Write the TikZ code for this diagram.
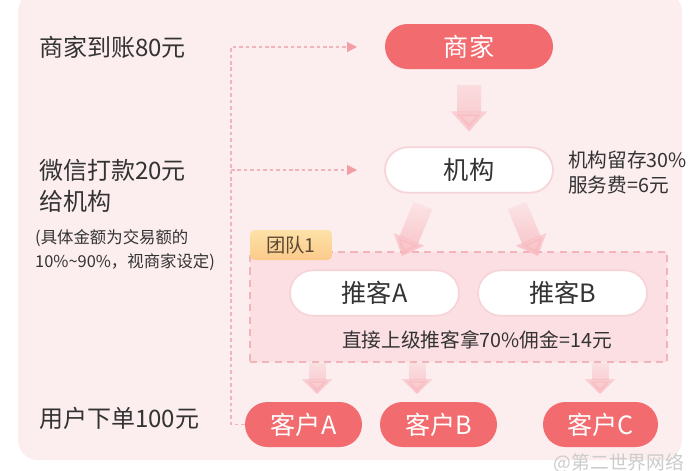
\documentclass[tikz,border=0pt]{standalone}
\usepackage{fontspec}
\setmainfont{Noto Sans CJK SC}
\usetikzlibrary{arrows.meta, positioning, shapes.misc, fadings, calc}
\definecolor{bgpink}{RGB}{252,237,238}
\definecolor{teampink}{RGB}{252,223,227}
\definecolor{pillred}{RGB}{241,107,111}
\definecolor{arrowpink}{RGB}{248,184,190}
\definecolor{dashpink}{RGB}{240,180,186}
\definecolor{dashtipc}{RGB}{243,158,165}
\definecolor{textgray}{RGB}{51,51,51}
\definecolor{tabtop}{RGB}{253,226,168}
\definecolor{tabbot}{RGB}{251,202,138}
\definecolor{tabtext}{RGB}{92,72,52}
\definecolor{glow}{RGB}{247,212,216}
\tikzfading[name=arrowfade, top color=transparent!92, bottom color=transparent!5]

\begin{document}
\begin{tikzpicture}[
    x=0.03cm, y=-0.03cm,
    redpill/.style={rounded rectangle, fill=pillred, text=white, minimum height=1.35cm, inner sep=0pt, font=\fontsize{21.5}{24}\selectfont},
    whitepill/.style={rounded rectangle, fill=white, draw=glow, line width=1.5pt, text=textgray, minimum height=1.36cm, inner sep=0pt, font=\fontsize{21.5}{24}\selectfont},
    lefttext/.style={text=textgray, inner sep=0pt, font=\fontsize{20.5}{27}\selectfont},
    smalltext/.style={text=textgray, inner sep=0pt, font=\fontsize{14}{20.5}\selectfont},
    note/.style={text=textgray, inner sep=0pt, font=\fontsize{16.8}{21.5}\selectfont},
    teambox/.style={draw=dashpink, fill=teampink, line width=1.2pt, dash pattern=on 6pt off 4.5pt},
    tabbox/.style={rounded corners=4pt, top color=tabtop, bottom color=tabbot, text=tabtext, minimum width=2.46cm, minimum height=0.9cm, inner sep=0pt, font=\fontsize{16.5}{20}\selectfont},
    dashline/.style={draw=dashpink, line width=0.9pt, dash pattern=on 3pt off 2.5pt, -{Triangle[width=0.3cm, length=0.3cm, color=dashtipc]}},
    fatbig/.style={draw=arrowpink, line width=0.72cm, -{Triangle[width=1.05cm, length=0.6cm]}, path fading=arrowfade},
    fatmid/.style={draw=arrowpink, line width=0.6cm, -{Triangle[width=0.96cm, length=0.54cm]}, path fading=arrowfade},
    fatsmall/.style={draw=arrowpink, line width=0.51cm, -{Triangle[width=0.9cm, length=0.45cm]}, path fading=arrowfade}
]
    \useasboundingbox (0,0) rectangle (700,470);
    % Background
    \fill[white] (0,0) rectangle (700,470);
    \fill[bgpink, rounded corners=0.6cm] (18,-8) rectangle (682,460);

    % Left column texts
    \node[lefttext, anchor=west] (daozhang) at (39,47) {商家到账80元};
    \node[lefttext, anchor=west, align=left] (dakuan) at (39,186) {微信打款20元\\给机构};
    \node[smalltext, anchor=west, align=left] (fanwei) at (35,250) {(具体金额为交易额的\\10\%\textasciitilde90\%，视商家设定)};
    \node[lefttext, anchor=west] (xiadan) at (39,418) {用户下单100元};

    % Merchant and agency
    \node[redpill, minimum width=5.04cm] (shangjia) at (469,46.5) {商家};
    \node[whitepill, minimum width=5.04cm] (jigou) at (469,170) {机构};
    \node[note, anchor=west, align=left] (liucun) at (568,172.5) {机构留存30\%\\服务费=6元};

    % Team 1
    \node[teambox, minimum width=12.51cm, minimum height=3.3cm] (team) at (458.5,307) {};
    \node[tabbox] (tab) at (291,245) {团队1};
    \node[whitepill, minimum width=5.07cm] (tkA) at (374.5,293) {推客A};
    \node[whitepill, minimum width=5.07cm] (tkB) at (562.5,293) {推客B};
    \node[note] (yongjin) at (477,340) {直接上级推客拿70\%佣金=14元};

    % Customers
    \node[redpill, minimum width=3.51cm] (khA) at (303.5,424.5) {客户A};
    \node[redpill, minimum width=3.51cm] (khB) at (438.5,424.5) {客户B};
    \node[redpill, minimum width=3.45cm] (khC) at (600.5,424.5) {客户C};

    % Watermark
    \node[text=gray!40, font=\fontsize{16}{18}\selectfont] (shuiyin) at (619,463) {@第二世界网络};

    % Dashed money flow
    \coordinate (bend) at (231,47);
    \coordinate (t1) at (357,47);
    \coordinate (t2) at (357,170);
    \draw[dashline] (khA.west) -| (bend) -- (t1);
    \draw[dashline] (bend |- t2) -- (t2);

    % Fat arrows
    \coordinate (inA) at (402,256);
    \coordinate (inB) at (538,256);
    \coordinate (dA) at (317,394);
    \coordinate (dB) at (417,394);
    \coordinate (dC) at (600,394);
    \draw[fatbig, shorten <=0.48cm, shorten >=0.45cm] (shangjia) -- (jigou);
    \draw[fatmid] ($(jigou.south)+(-46,12)$) -- (inA);
    \draw[fatmid] ($(jigou.south)+(48,12)$) -- (inB);
    \draw[fatsmall] (team.south -| dA) -- (dA);
    \draw[fatsmall] (team.south -| dB) -- (dB);
    \draw[fatsmall] (team.south -| dC) -- (dC);
\end{tikzpicture}
\end{document}
